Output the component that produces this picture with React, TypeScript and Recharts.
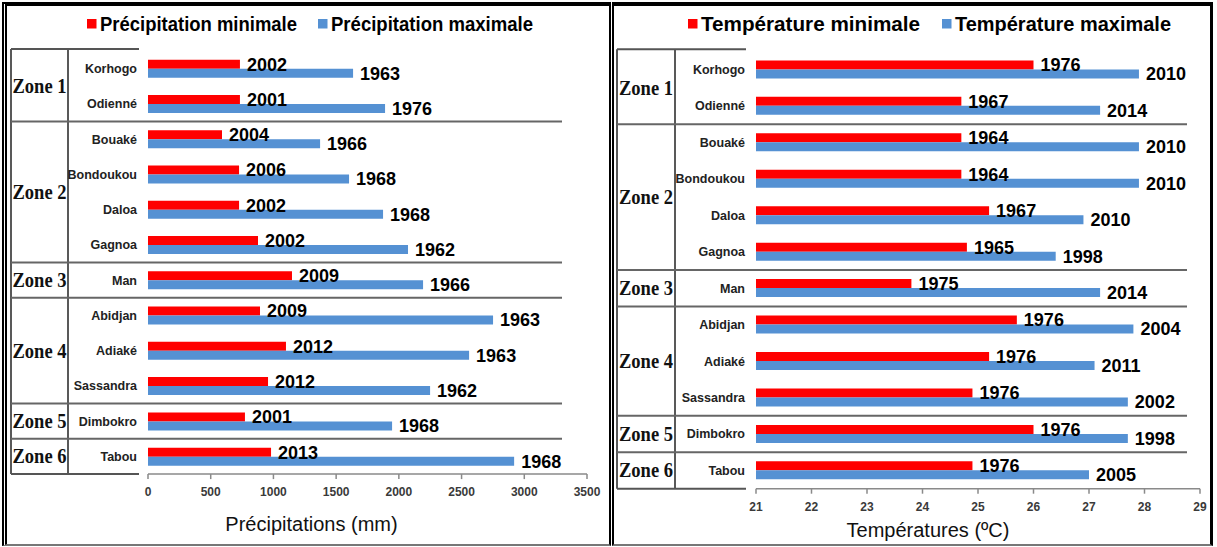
import { Bar, BarChart, LabelList, XAxis, YAxis } from "recharts";

const cities = ["Korhogo", "Odienné", "Bouaké", "Bondoukou", "Daloa", "Gagnoa", "Man", "Abidjan", "Adiaké", "Sassandra", "Dimbokro", "Tabou"];
const zoneNames = ["Zone 1", "Zone 2", "Zone 3", "Zone 4", "Zone 5", "Zone 6"];
const zoneSizes = [2, 4, 1, 3, 1, 1];

// précipitations (mm) + année de l'extrême
const precipMin = [733, 733, 590, 726, 726, 877, 1148, 893, 1100, 957, 773, 981];
const precipMinYear = [2002, 2001, 2004, 2006, 2002, 2002, 2009, 2009, 2012, 2012, 2001, 2013];
const precipMax = [1635, 1890, 1372, 1603, 1874, 2073, 2193, 2751, 2560, 2249, 1946, 2919];
const precipMaxYear = [1963, 1976, 1966, 1968, 1968, 1962, 1966, 1963, 1963, 1962, 1968, 1968];
const precipTicks = [0, 500, 1000, 1500, 2000, 2500, 3000, 3500];

// températures (°C)
const tempMin = [26.0, 24.7, 24.7, 24.7, 25.2, 24.8, 23.8, 25.7, 25.2, 24.9, 26.0, 24.9];
const tempMinYear = [1976, 1967, 1964, 1964, 1967, 1965, 1975, 1976, 1976, 1976, 1976, 1976];
const tempMax = [27.9, 27.2, 27.9, 27.9, 26.9, 26.4, 27.2, 27.8, 27.1, 27.7, 27.7, 27.0];
const tempMaxYear = [2010, 2014, 2010, 2010, 2010, 1998, 2014, 2004, 2011, 2002, 1998, 2005];
const tempTicks = [21, 22, 23, 24, 25, 26, 27, 28, 29];

const SANS = "'Liberation Sans', Arial, sans-serif";
const SERIF = "'Liberation Serif', 'Times New Roman', serif";
const RED = "#ff0000";
const BLUE = "#5591d3";
const H = 547;

type Spec = {
  left: number;
  width: number;
  yAxisWidth: number;
  top: number;
  right: number;
  bottom: number;
  axisHeight: number;
  tickMargin: number;
  domain: [number, number];
  ticks: number[];
  min: number[];
  minYear: number[];
  max: number[];
  maxYear: number[];
  minName: string;
  maxName: string;
  title: string;
  titleDx: number;
  legend: { redX: number; textW1: number; blueX: number; textW2: number };
  table: { x0: number; x1: number; shortEnd: number; sepEnd: number };
};

const ClimatePanel = ({ spec }: { spec: Spec }) => {
  const data = cities.map((city, i) => ({
    city,
    min: spec.min[i],
    minYear: spec.minYear[i],
    max: spec.max[i],
    maxYear: spec.maxYear[i],
  }));
  const plotH = H - spec.top - spec.bottom - spec.axisHeight;
  const band = plotH / cities.length;
  const plotBottom = spec.top + plotH;

  const bounds: number[] = [];
  let acc = 0;
  zoneSizes.forEach((n) => {
    bounds.push(acc);
    acc += n;
  });

  const lg = spec.legend;
  const tb = spec.table;
  const labelStyle = { fontSize: 18, fontWeight: 700, fill: "#000", fontFamily: SANS };

  return (
    <div style={{ position: "absolute", left: spec.left, top: 0, width: spec.width, height: H }}>
      <BarChart
        width={spec.width}
        height={H}
        layout="vertical"
        data={data}
        margin={{ top: spec.top, right: spec.right, bottom: spec.bottom, left: 0 }}
        barCategoryGap="25%"
        barGap={0}
      >
        <XAxis
          type="number"
          domain={spec.domain}
          ticks={spec.ticks}
          interval={0}
          height={spec.axisHeight}
          tickSize={5}
          tickMargin={spec.tickMargin}
          axisLine={{ stroke: "#8a8a8a", strokeWidth: 1.5 }}
          tickLine={{ stroke: "#8a8a8a", strokeWidth: 1.5 }}
          tick={{ fontSize: 12, fontWeight: 700, fill: "#3a3a3a", fontFamily: SANS }}
          label={{
            value: spec.title,
            position: "insideBottom",
            offset: 0,
            dx: spec.titleDx,
            style: { fontSize: 20, fill: "#111", fontFamily: SANS },
          }}
        />
        <YAxis
          type="category"
          dataKey="city"
          width={spec.yAxisWidth}
          interval={0}
          axisLine={false}
          tickLine={false}
          tickMargin={5}
          tick={{ fontSize: 12.5, fontWeight: 700, fill: "#222", fontFamily: SANS }}
        />
        <Bar dataKey="min" name={spec.minName} fill={RED} isAnimationActive={false}>
          <LabelList dataKey="minYear" position="right" offset={7} style={labelStyle} />
        </Bar>
        <Bar dataKey="max" name={spec.maxName} fill={BLUE} isAnimationActive={false}>
          <LabelList dataKey="maxYear" position="right" offset={7} style={labelStyle} />
        </Bar>
      </BarChart>
      <svg
        width={spec.width}
        height={H}
        style={{ position: "absolute", left: 0, top: 0, pointerEvents: "none" }}
      >
        {/* légende */}
        <rect x={lg.redX} y={19} width={9.5} height={9.5} fill={RED} />
        <text x={lg.redX + 13} y={31} fontSize={21} fontWeight={700} fontFamily={SANS} textLength={lg.textW1} lengthAdjust="spacingAndGlyphs">
          {spec.minName}
        </text>
        <rect x={lg.blueX} y={19} width={9.5} height={9.5} fill={BLUE} />
        <text x={lg.blueX + 13} y={31} fontSize={21} fontWeight={700} fontFamily={SANS} textLength={lg.textW2} lengthAdjust="spacingAndGlyphs">
          {spec.maxName}
        </text>

        {/* tableau des zones */}
        <line x1={tb.x0} x2={tb.x0} y1={spec.top - 2} y2={plotBottom} stroke="#222" strokeWidth={1.5} />
        <line x1={tb.x1} x2={tb.x1} y1={spec.top - 2} y2={plotBottom} stroke="#222" strokeWidth={1.5} />
        <line x1={tb.x0} x2={tb.shortEnd} y1={spec.top - 2} y2={spec.top - 2} stroke="#555" strokeWidth={2} />
        <line x1={tb.x0} x2={tb.shortEnd} y1={plotBottom} y2={plotBottom} stroke="#555" strokeWidth={2} />
        {bounds.slice(1).map((b) => (
          <line key={b} x1={tb.x0} x2={tb.sepEnd} y1={spec.top + b * band} y2={spec.top + b * band} stroke="#666" strokeWidth={2} />
        ))}
        {zoneNames.map((z, i) => (
          <text
            key={z}
            x={(tb.x0 + tb.x1) / 2}
            y={spec.top + (bounds[i] + zoneSizes[i] / 2) * band + 7}
            textAnchor="middle"
            fontSize={21}
            fontWeight={700}
            fontFamily={SERIF}
            fill="#111"
            textLength={54}
            lengthAdjust="spacingAndGlyphs"
          >
            {z}
          </text>
        ))}
      </svg>
    </div>
  );
};

const leftSpec: Spec = {
  left: 0,
  width: 610,
  yAxisWidth: 148,
  top: 50.9,
  right: 23,
  bottom: 15.9,
  axisHeight: 57,
  tickMargin: 8.4,
  domain: [0, 3500],
  ticks: precipTicks,
  min: precipMin,
  minYear: precipMinYear,
  max: precipMax,
  maxYear: precipMaxYear,
  minName: "Précipitation minimale",
  maxName: "Précipitation maximale",
  title: "Précipitations (mm)",
  titleDx: -56,
  legend: { redX: 87, textW1: 197, blueX: 318, textW2: 202 },
  table: { x0: 11, x1: 68, shortEnd: 139, sepEnd: 562 },
};

const rightSpec: Spec = {
  left: 609,
  width: 604,
  yAxisWidth: 147,
  top: 51.3,
  right: 13,
  bottom: 10,
  axisHeight: 48.3,
  tickMargin: 9,
  domain: [21, 29],
  ticks: tempTicks,
  min: tempMin,
  minYear: tempMinYear,
  max: tempMax,
  maxYear: tempMaxYear,
  minName: "Température minimale",
  maxName: "Température maximale",
  title: "Températures (ºC)",
  titleDx: -50,
  legend: { redX: 79, textW1: 219, blueX: 333, textW2: 216 },
  table: { x0: 8, x1: 66, shortEnd: 137, sepEnd: 578 },
};

export default function App() {
  return (
    <div style={{ position: "relative", width: 1217, height: H, background: "#fff", overflow: "hidden" }}>
      <style>{`body { margin: 0; }`}</style>
      <ClimatePanel spec={leftSpec} />
      <ClimatePanel spec={rightSpec} />
      <div
        style={{
          position: "absolute", left: 2, top: 2, width: 609, height: 544, boxSizing: "border-box",
          borderTop: "4px solid #000", borderLeft: "5px double #000", borderRight: "2px solid #000",
          borderBottom: "2px solid #777", pointerEvents: "none",
        }}
      />
      <div
        style={{
          position: "absolute", left: 612, top: 2, width: 601, height: 544, boxSizing: "border-box",
          borderTop: "4px solid #000", borderLeft: "2px solid #000", borderRight: "3px solid #000",
          borderBottom: "2px solid #777", pointerEvents: "none",
        }}
      />
    </div>
  );
}
